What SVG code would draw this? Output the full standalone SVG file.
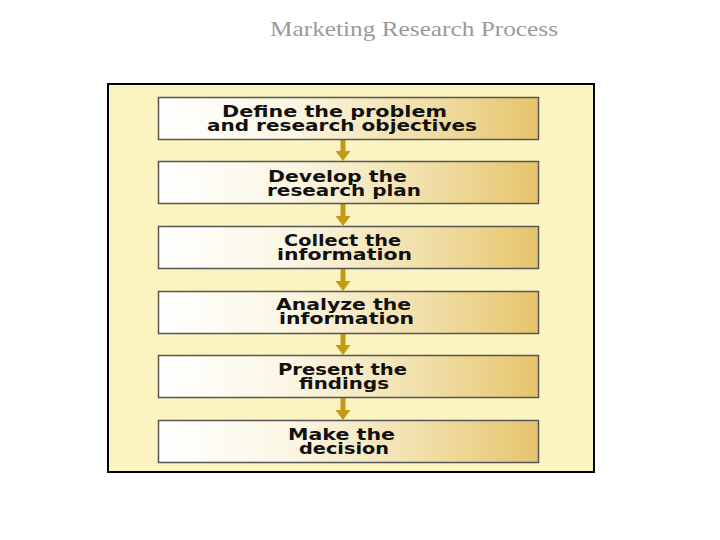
<svg xmlns="http://www.w3.org/2000/svg" width="720" height="540" viewBox="0 0 720 540">
<defs>
<linearGradient id="g" x1="0" y1="0" x2="1" y2="0">
<stop offset="0" stop-color="#ffffff"/>
<stop offset="0.35" stop-color="#fbf6e4"/>
<stop offset="0.7" stop-color="#f1dfa8"/>
<stop offset="1" stop-color="#e6c46c"/>
</linearGradient>
<style>
.box{fill:url(#g);stroke:#555;stroke-width:1.5}
.t{font-family:"DejaVu Sans",sans-serif;font-weight:bold;font-size:15px;fill:#111;text-anchor:middle}
.c{fill:#c49a16}
</style>
</defs>
<rect width="720" height="540" fill="#fff"/>
<text x="414" y="36" font-family="Liberation Serif, serif" font-size="22" fill="#9a9a9a" text-anchor="middle" textLength="288" lengthAdjust="spacingAndGlyphs">Marketing Research Process</text>
<rect x="108" y="84" width="486" height="388" fill="#fcf4c0" stroke="#000" stroke-width="2"/>
<g id="connectors">
<path class="c" d="M340.5,139 h5 v12 h5 l-7.5,10 l-7.5,-10 h5 z"/>
<path class="c" d="M340.5,204 h5 v12 h5 l-7.5,10 l-7.5,-10 h5 z"/>
<path class="c" d="M340.5,269 h5 v12 h5 l-7.5,10 l-7.5,-10 h5 z"/>
<path class="c" d="M340.5,333 h5 v12 h5 l-7.5,10 l-7.5,-10 h5 z"/>
<path class="c" d="M340.5,398 h5 v12 h5 l-7.5,10 l-7.5,-10 h5 z"/>
</g>
<g id="n1"><rect class="box" x="158.5" y="97.5" width="380" height="42"/>
<text class="t" x="334.5" y="116.5" textLength="225" lengthAdjust="spacingAndGlyphs">Define the problem</text>
<text class="t" x="342" y="131" textLength="270" lengthAdjust="spacingAndGlyphs">and research objectives</text></g>
<g id="n2"><rect class="box" x="158.5" y="161.5" width="380" height="42"/>
<text class="t" x="337.5" y="181.5" textLength="139" lengthAdjust="spacingAndGlyphs">Develop the</text>
<text class="t" x="344" y="196" textLength="154" lengthAdjust="spacingAndGlyphs">research plan</text></g>
<g id="n3"><rect class="box" x="158.5" y="226.5" width="380" height="42"/>
<text class="t" x="342.5" y="245.5" textLength="117" lengthAdjust="spacingAndGlyphs">Collect the</text>
<text class="t" x="344.5" y="260" textLength="135" lengthAdjust="spacingAndGlyphs">information</text></g>
<g id="n4"><rect class="box" x="158.5" y="291.5" width="380" height="42"/>
<text class="t" x="343.5" y="309.5" textLength="135" lengthAdjust="spacingAndGlyphs">Analyze the</text>
<text class="t" x="346.5" y="324" textLength="135" lengthAdjust="spacingAndGlyphs">information</text></g>
<g id="n5"><rect class="box" x="158.5" y="355.5" width="380" height="42"/>
<text class="t" x="342.5" y="374.5" textLength="129" lengthAdjust="spacingAndGlyphs">Present the</text>
<text class="t" x="344" y="389" textLength="90" lengthAdjust="spacingAndGlyphs">findings</text></g>
<g id="n6"><rect class="box" x="158.5" y="420.5" width="380" height="42"/>
<text class="t" x="341.5" y="439.5" textLength="107" lengthAdjust="spacingAndGlyphs">Make the</text>
<text class="t" x="344" y="454" textLength="90" lengthAdjust="spacingAndGlyphs">decision</text></g>
</svg>
